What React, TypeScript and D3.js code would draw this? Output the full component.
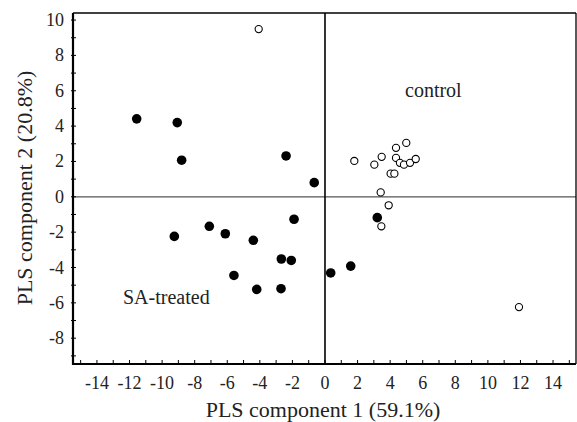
import React, { useEffect, useRef } from "react";
import * as d3 from "d3";

const saX = [-11.56, -9.07, -8.8, -2.39, -0.66, -9.25, -7.1, -6.12, -4.4, -1.9, -5.59, -2.68, -2.07, -4.19, -2.7, 3.21, 0.35, 1.58];
const saY = [4.41, 4.2, 2.07, 2.31, 0.8, -2.24, -1.67, -2.09, -2.46, -1.27, -4.45, -3.52, -3.6, -5.24, -5.2, -1.18, -4.31, -3.92];
const ctrlX = [-4.07, 1.8, 3.03, 3.48, 4.36, 4.99, 4.36, 4.6, 4.85, 5.22, 5.57, 4.03, 4.26, 3.42, 3.91, 3.46, 11.91];
const ctrlY = [9.49, 2.03, 1.82, 2.26, 2.77, 3.05, 2.2, 1.92, 1.82, 1.92, 2.14, 1.31, 1.31, 0.25, -0.48, -1.67, -6.24];
const xTickLabels = [-14, -12, -10, -8, -6, -4, -2, 0, 2, 4, 6, 8, 10, 12, 14];
const yTickLabels = [-8, -6, -4, -2, 0, 2, 4, 6, 8, 10];
const xMinorTicks = d3.range(-15, 16, 1);
const yMinorTicks = d3.range(-9, 11, 1);

const W = 577;
const H = 422;
const FONT = "'Liberation Serif', 'Times New Roman', serif";

export default function App() {
  const ref = useRef<SVGSVGElement>(null);
  useEffect(() => {
    const svg = d3.select(ref.current);
    svg.selectAll("*").remove();
    const left = 73, right = 576, top = 13, bottom = 364;
    const x = d3.scaleLinear().domain([-15.47, 15.41]).range([left, right]);
    const y = d3.scaleLinear().domain([-9.46, 10.4]).range([bottom, top]);

    // zero lines
    svg.append("line").attr("x1", left).attr("x2", right).attr("y1", y(0)).attr("y2", y(0))
      .attr("stroke", "#555").attr("stroke-width", 1.2);
    svg.append("line").attr("x1", x(0)).attr("x2", x(0)).attr("y1", top).attr("y2", bottom)
      .attr("stroke", "#000").attr("stroke-width", 1.6);

    // frame
    svg.append("line").attr("x1", left).attr("x2", right).attr("y1", top).attr("y2", top)
      .attr("stroke", "#000").attr("stroke-width", 1.3);
    svg.append("line").attr("x1", right).attr("x2", right).attr("y1", top).attr("y2", bottom)
      .attr("stroke", "#000").attr("stroke-width", 1.3);
    svg.append("line").attr("x1", left).attr("x2", left).attr("y1", top).attr("y2", bottom + 1)
      .attr("stroke", "#000").attr("stroke-width", 2.2);
    svg.append("line").attr("x1", left - 1).attr("x2", right).attr("y1", bottom).attr("y2", bottom)
      .attr("stroke", "#000").attr("stroke-width", 2.2);

    // ticks
    svg.append("g").selectAll("line").data(xMinorTicks).join("line")
      .attr("x1", (d) => x(d)).attr("x2", (d) => x(d))
      .attr("y1", bottom).attr("y2", bottom - 4)
      .attr("stroke", "#000").attr("stroke-width", 1);
    svg.append("g").selectAll("line").data(yMinorTicks).join("line")
      .attr("x1", left - 2).attr("x2", left + 3)
      .attr("y1", (d) => y(d)).attr("y2", (d) => y(d))
      .attr("stroke", "#000").attr("stroke-width", 1);

    // tick labels
    svg.append("g").selectAll("text").data(xTickLabels).join("text")
      .attr("x", (d) => x(d)).attr("y", 389)
      .attr("text-anchor", "middle")
      .attr("font-family", FONT).attr("font-size", 18).attr("fill", "#222")
      .text((d) => String(d));
    svg.append("g").selectAll("text").data(yTickLabels).join("text")
      .attr("x", 64).attr("y", (d) => y(d) + 6)
      .attr("text-anchor", "end")
      .attr("font-family", FONT).attr("font-size", 18).attr("fill", "#222")
      .text((d) => String(d));

    // axis titles
    svg.append("text").attr("x", 323).attr("y", 417).attr("text-anchor", "middle")
      .attr("font-family", FONT).attr("font-size", 22).attr("fill", "#222")
      .text("PLS component 1 (59.1%)");
    svg.append("text").attr("transform", "translate(32,188) rotate(-90)").attr("text-anchor", "middle")
      .attr("font-family", FONT).attr("font-size", 22).attr("fill", "#222")
      .text("PLS component 2 (20.8%)");

    // annotations
    svg.append("text").attr("x", 405).attr("y", 97)
      .attr("font-family", FONT).attr("font-size", 20).attr("fill", "#222").text("control");
    svg.append("text").attr("x", 123).attr("y", 304)
      .attr("font-family", FONT).attr("font-size", 20).attr("fill", "#222").text("SA-treated");

    // points
    const sa = saX.map((v, i) => [v, saY[i]]);
    const ctrl = ctrlX.map((v, i) => [v, ctrlY[i]]);
    svg.append("g").selectAll("circle").data(sa).join("circle")
      .attr("cx", (d) => x(d[0])).attr("cy", (d) => y(d[1])).attr("r", 4.8)
      .attr("fill", "#000");
    svg.append("g").selectAll("circle").data(ctrl).join("circle")
      .attr("cx", (d) => x(d[0])).attr("cy", (d) => y(d[1])).attr("r", 3.6)
      .attr("fill", "#fff").attr("stroke", "#000").attr("stroke-width", 1.1);
  }, []);
  return (
    <svg ref={ref} width={W} height={H} style={{ position: "absolute", left: 0, top: 0, background: "#fff" }} />
  );
}
